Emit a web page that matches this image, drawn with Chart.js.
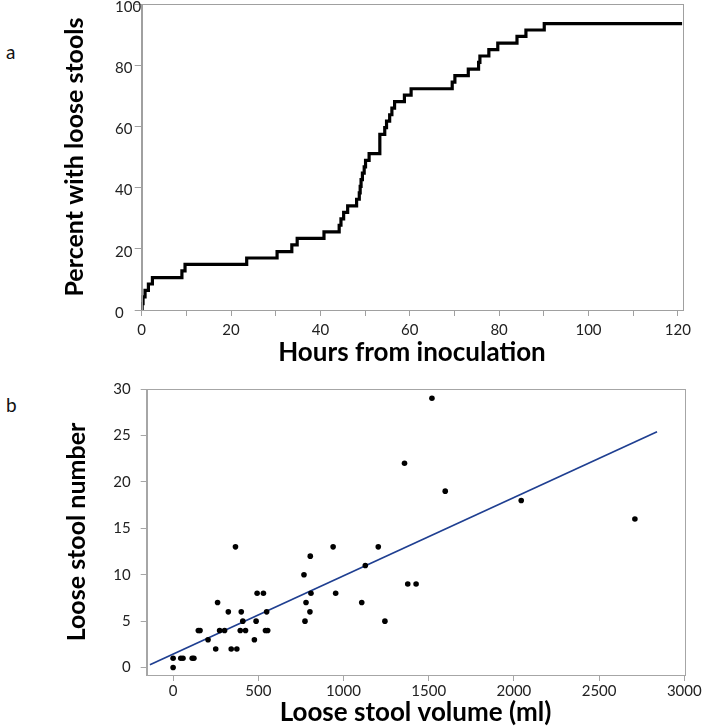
<!DOCTYPE html>
<html>
<head>
<meta charset="utf-8">
<script src="https://cdn.jsdelivr.net/npm/chart.js@4/dist/chart.umd.min.js"></script>
<style>
  html, body { margin: 0; padding: 0; background: #fff; width: 708px; height: 728px; overflow: hidden; }
  .wrap { position: absolute; left: 0; }
  #wa { top: -12px; width: 708px; height: 380px; }
  #wb { top: 370px; width: 708px; height: 358px; }
  .lab { position: absolute; left: 6px; font-family: Lato, "Open Sans", sans-serif; font-size: 19px; color: #111; }
</style>
</head>
<body>
<div class="lab" style="top:40px">a</div>
<div class="lab" style="top:393px">b</div>
<div class="wrap" id="wa"><canvas id="ca"></canvas></div>
<div class="wrap" id="wb"><canvas id="cb"></canvas></div>
<script>
// ---- Panel a: cumulative percent with loose stools ----
const hours = [0, 0.1, 0.3, 0.75, 1.5, 2.4, 9.0, 9.7, 23.5, 30.3, 33.6, 34.8, 40.8, 44.2, 44.6, 45.2, 46.1, 48.1, 48.7, 48.9, 49.1, 49.4, 49.8, 50.1, 50.9, 53.3, 54.4, 54.8, 55.5, 56.0, 56.6, 58.8, 60.3, 69.5, 70.1, 73.1, 75.4, 75.7, 77.7, 79.7, 84.0, 86.0, 90.1, 121];
const percentLoose = [0, 2.1, 4.3, 6.4, 8.5, 10.6, 12.8, 14.9, 17.0, 19.1, 21.3, 23.4, 25.5, 27.7, 29.8, 31.9, 34.0, 36.2, 38.3, 40.4, 42.6, 44.7, 46.8, 48.9, 51.1, 57.4, 59.6, 61.7, 63.8, 66.0, 68.1, 70.2, 72.3, 74.5, 76.6, 78.7, 80.9, 83.0, 85.1, 87.2, 89.4, 91.5, 93.6, 93.6];
const hourTicks = [0, 10, 20, 30, 40, 50, 60, 70, 80, 90, 100, 110, 120];
const percentTicks = [0, 20, 40, 60, 80, 100];

// ---- Panel b: loose stool volume vs number ----
const volumeMl = [0, 0, 45, 58, 112, 122, 148, 158, 205, 250, 261, 273, 302, 324, 341, 374, 366, 394, 400, 409, 425, 477, 487, 493, 530, 549, 542, 555, 768, 774, 780, 803, 805, 809, 939, 954, 1107, 1128, 1204, 1243, 1358, 1377, 1426, 1519, 1597, 2043, 2710];
const stoolNumber = [0, 1, 1, 1, 1, 1, 4, 4, 3, 2, 7, 4, 4, 6, 2, 2, 13, 4, 6, 5, 4, 3, 5, 8, 8, 6, 4, 4, 10, 5, 7, 6, 12, 8, 13, 8, 7, 11, 13, 5, 22, 9, 9, 29, 19, 18, 16];
const fitLineX = [-136, 2840];
const fitLineY = [0.3, 25.4];
const volumeTicks = [0, 500, 1000, 1500, 2000, 2500, 3000];
const numberTicks = [0, 5, 10, 15, 20, 25, 30];

const FONT = 'Lato, "Open Sans", sans-serif';
const frame = {
  id: 'frame',
  afterDraw(chart, args, opts) {
    const a = chart.chartArea, ctx = chart.ctx;
    ctx.save();
    ctx.strokeStyle = opts.color;
    ctx.lineWidth = 1;
    ctx.strokeRect(Math.round(a.left) + 0.5, Math.round(a.top) + 0.5, Math.round(a.right - a.left), Math.round(a.bottom - a.top));
    ctx.restore();
  }
};
const setTicks = arr => s => { s.ticks = arr.map(v => ({ value: v })); };

new Chart(document.getElementById('ca'), {
  type: 'line',
  data: {
    datasets: [{
      data: hours.map((h, i) => ({ x: h, y: percentLoose[i] })),
      stepped: true,
      borderColor: '#000',
      borderWidth: 3.2,
      borderJoinStyle: 'miter',
      pointRadius: 0,
      fill: false
    }]
  },
  plugins: [frame],
  options: {
    responsive: true,
    maintainAspectRatio: false,
    animation: false,
    layout: { padding: { left: 50, right: 25.7, top: 16, bottom: 0 } },
    plugins: { legend: { display: false }, tooltip: { enabled: false }, frame: { color: '#a0a0a0' } },
    scales: {
      x: {
        type: 'linear', min: 0, max: 121,
        afterBuildTicks: setTicks(hourTicks),
        afterFit: s => { s.height = 58; },
        border: { display: true, color: '#a0a0a0' },
        grid: { display: true, drawOnChartArea: false, drawTicks: true, tickLength: 6, color: '#a0a0a0' },
        ticks: {
          autoSkip: false, maxRotation: 0, padding: 5,
          color: '#222', font: { family: FONT, size: 15 },
          callback: v => (v % 20 === 0 ? String(v) : '')
        },
        title: { display: true, text: 'Hours from inoculation', color: '#000', padding: { top: 0, bottom: 0 }, font: { family: FONT, size: 26, weight: 'bold' } }
      },
      y: {
        type: 'linear', min: 0, max: 100, weight: 0,
        afterBuildTicks: setTicks(percentTicks),
        afterFit: s => { s.width = 26.7; },
        border: { display: true, color: '#a0a0a0' },
        grid: { display: true, drawOnChartArea: false, drawTicks: true, tickLength: 7, color: '#a0a0a0' },
        ticks: { crossAlign: 'far', autoSkip: false, labelOffset: 3, color: '#222', font: { family: FONT, size: 15 } }
      },
      yt: {
        type: 'linear', position: 'left', weight: 10, min: 0, max: 1,
        afterFit: s => { s.width = 65; },
        border: { display: false },
        grid: { display: false },
        ticks: { display: false },
        title: { display: true, text: 'Percent with loose stools', color: '#000', padding: { top: 10, bottom: 0 }, font: { family: FONT, size: 25, weight: 'bold' } }
      }
    }
  }
});

new Chart(document.getElementById('cb'), {
  type: 'scatter',
  data: {
    datasets: [{
      data: volumeMl.map((v, i) => ({ x: v, y: stoolNumber[i] })),
      backgroundColor: '#000',
      borderWidth: 0,
      pointRadius: 2.8
    }, {
      type: 'line',
      data: fitLineX.map((v, i) => ({ x: v, y: fitLineY[i] })),
      borderColor: '#1f3f91',
      borderWidth: 1.7,
      pointRadius: 0,
      fill: false
    }]
  },
  plugins: [frame],
  options: {
    responsive: true,
    maintainAspectRatio: false,
    animation: false,
    layout: { padding: { left: 62, right: 23.7, top: 14, bottom: 0 } },
    plugins: { legend: { display: false }, tooltip: { enabled: false }, frame: { color: '#a6a6a6' } },
    scales: {
      x: {
        type: 'linear', min: -155, max: 3000,
        afterBuildTicks: setTicks(volumeTicks),
        afterFit: s => { s.height = 53; },
        border: { display: true, color: '#a6a6a6' },
        grid: { display: true, drawOnChartArea: false, drawTicks: true, tickLength: 6, color: '#a6a6a6' },
        ticks: { autoSkip: false, maxRotation: 0, padding: 1, color: '#222', font: { family: FONT, size: 15 }, callback: v => String(v) },
        title: { display: true, text: 'Loose stool volume (ml)', color: '#000', padding: { top: 0, bottom: 0 }, font: { family: FONT, size: 26, weight: 'bold' } }
      },
      y: {
        type: 'linear', min: -0.8, max: 30,
        afterBuildTicks: setTicks(numberTicks),
        afterFit: s => { s.width = 84.7; },
        border: { display: true, color: '#a6a6a6' },
        grid: { display: true, drawOnChartArea: false, drawTicks: true, tickLength: 6, color: '#a6a6a6' },
        ticks: { autoSkip: false, padding: 10, color: '#222', font: { family: FONT, size: 15 } },
        title: { display: true, text: 'Loose stool number', color: '#000', padding: { top: 0, bottom: 0 }, font: { family: FONT, size: 25, weight: 'bold' } }
      }
    }
  }
});
</script>
</body>
</html>
